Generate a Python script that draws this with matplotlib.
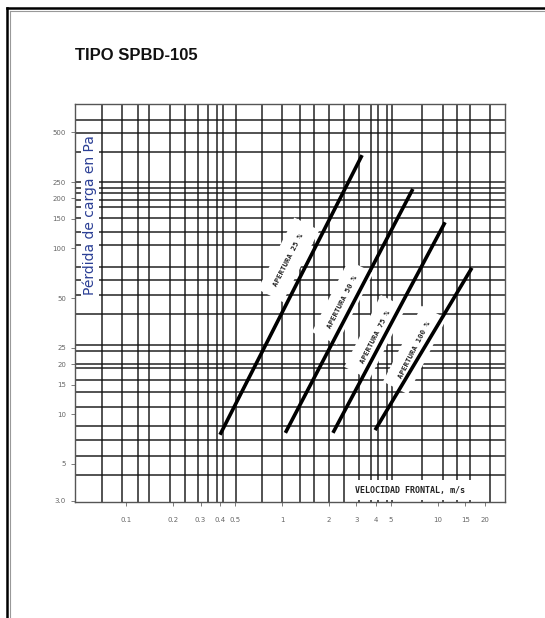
import matplotlib
matplotlib.use("Agg")
import matplotlib.pyplot as plt
from matplotlib.lines import Line2D

# Datos (velocidad frontal en m/s, pérdida de carga en Pa)
v_25 = [0.40, 3.26]
dp_25 = [7.5, 363]
v_50 = [1.05, 6.9]
dp_50 = [7.7, 227]
v_75 = [2.12, 11.1]
dp_75 = [7.7, 143]
v_100 = [3.95, 16.5]
dp_100 = [8.0, 76]

etiquetas = ["APERTURA 25 %", "APERTURA 50 %", "APERTURA 75 %", "APERTURA 100 %"]
pos_etiquetas = [(1.10, 85), (2.45, 47), (3.95, 29), (7.1, 24.3)]

x_ticks = [0.1, 0.2, 0.3, 0.4, 0.5, 1, 2, 3, 4, 5, 10, 15, 20]
x_tick_labels = ["0.1", "0.2", "0.3", "0.4", "0.5", "1", "2", "3", "4", "5", "10", "15", "20"]
y_ticks = [3, 5, 10, 15, 20, 25, 50, 100, 150, 200, 250, 500]
y_tick_labels = ["3.0", "5", "10", "15", "20", "25", "50", "100", "150", "200", "250", "500"]

# Líneas de la cuadrícula (papel logarítmico escaneado)
grid_x = [0.07, 0.094, 0.12, 0.14, 0.19, 0.24, 0.29, 0.335, 0.38, 0.42, 0.51, 0.74,
          1.0, 1.3, 1.6, 2.0, 2.5, 3.1, 3.7, 4.1, 4.7, 5.1, 7.9, 10.8, 13.2, 16, 21.6]
grid_y = [590, 493, 379, 250, 230, 215, 195, 177, 152, 125, 104, 77, 64, 52, 40,
          26, 24, 20, 19, 16, 13.5, 11, 8.5, 7.0, 5.6, 4.3]

fig = plt.figure(figsize=(5.45, 6.18), dpi=100)
ax = fig.add_axes([75 / 545, 1 - 502 / 618, 430 / 545, 398 / 618])
ax.set_xscale("log")
ax.set_yscale("log")
ax.set_xlim(0.047, 26.9)
ax.set_ylim(2.95, 738)

for gx in grid_x:
    ax.axvline(gx, color="#111111", lw=1.2, alpha=0.85, zorder=1)
for gy in grid_y:
    ax.axhline(gy, color="#111111", lw=1.2, alpha=0.85, zorder=1)

# Rectas de apertura
for v, dp in [(v_25, dp_25), (v_50, dp_50), (v_75, dp_75), (v_100, dp_100)]:
    ax.plot(v, dp, color="black", lw=2.6, solid_capstyle="butt", zorder=6)

for texto, (px, py) in zip(etiquetas, pos_etiquetas):
    ax.text(px, py, texto, rotation=63, ha="center", va="center", fontsize=5.3,
            family="DejaVu Sans Mono", fontweight="bold", color="#222222",
            rotation_mode="anchor", zorder=5,
            bbox=dict(boxstyle="square,pad=1.5", fc="white", ec="none"))

ax.text(0.779, 0.03, "VELOCIDAD FRONTAL, m/s", transform=ax.transAxes,
        ha="center", va="center", fontsize=6, family="DejaVu Sans Mono",
        fontweight="bold", color="#222222", zorder=5,
        bbox=dict(boxstyle="square,pad=0.7", fc="white", ec="none"))

ax.text(0.035, 0.721, "Pérdida de carga en Pa", transform=ax.transAxes, rotation=90,
        ha="center", va="center", fontsize=10, color="#2b3f95", zorder=5,
        bbox=dict(boxstyle="square,pad=0.1", fc="white", ec="none"))

ax.minorticks_off()
ax.set_xticks(x_ticks)
ax.set_xticklabels(x_tick_labels)
ax.set_yticks(y_ticks)
ax.set_yticklabels(y_tick_labels)
ax.tick_params(axis="both", labelsize=5, colors="#666666", length=3, width=0.6)
ax.tick_params(axis="x", pad=8)
for lado in ax.spines.values():
    lado.set_color("#555555")
    lado.set_linewidth(1.0)

fig.text(75 / 545, 1 - 55 / 618, "TIPO SPBD-105", fontsize=12, fontweight="bold",
         family="Liberation Sans", ha="left", va="center", color="#111111")

# Marco de la página
fig.add_artist(Line2D([7 / 545, 1], [1 - 8 / 618, 1 - 8 / 618], color="black", lw=1.8))
fig.add_artist(Line2D([7 / 545, 7 / 545], [0, 1 - 8 / 618], color="black", lw=1.8))
fig.add_artist(Line2D([9.5 / 545, 1], [1 - 10.5 / 618, 1 - 10.5 / 618], color="#999999", lw=0.8))
fig.add_artist(Line2D([9.5 / 545, 9.5 / 545], [0, 1 - 10.5 / 618], color="#999999", lw=0.8))

fig.savefig("out.png", dpi=100)
